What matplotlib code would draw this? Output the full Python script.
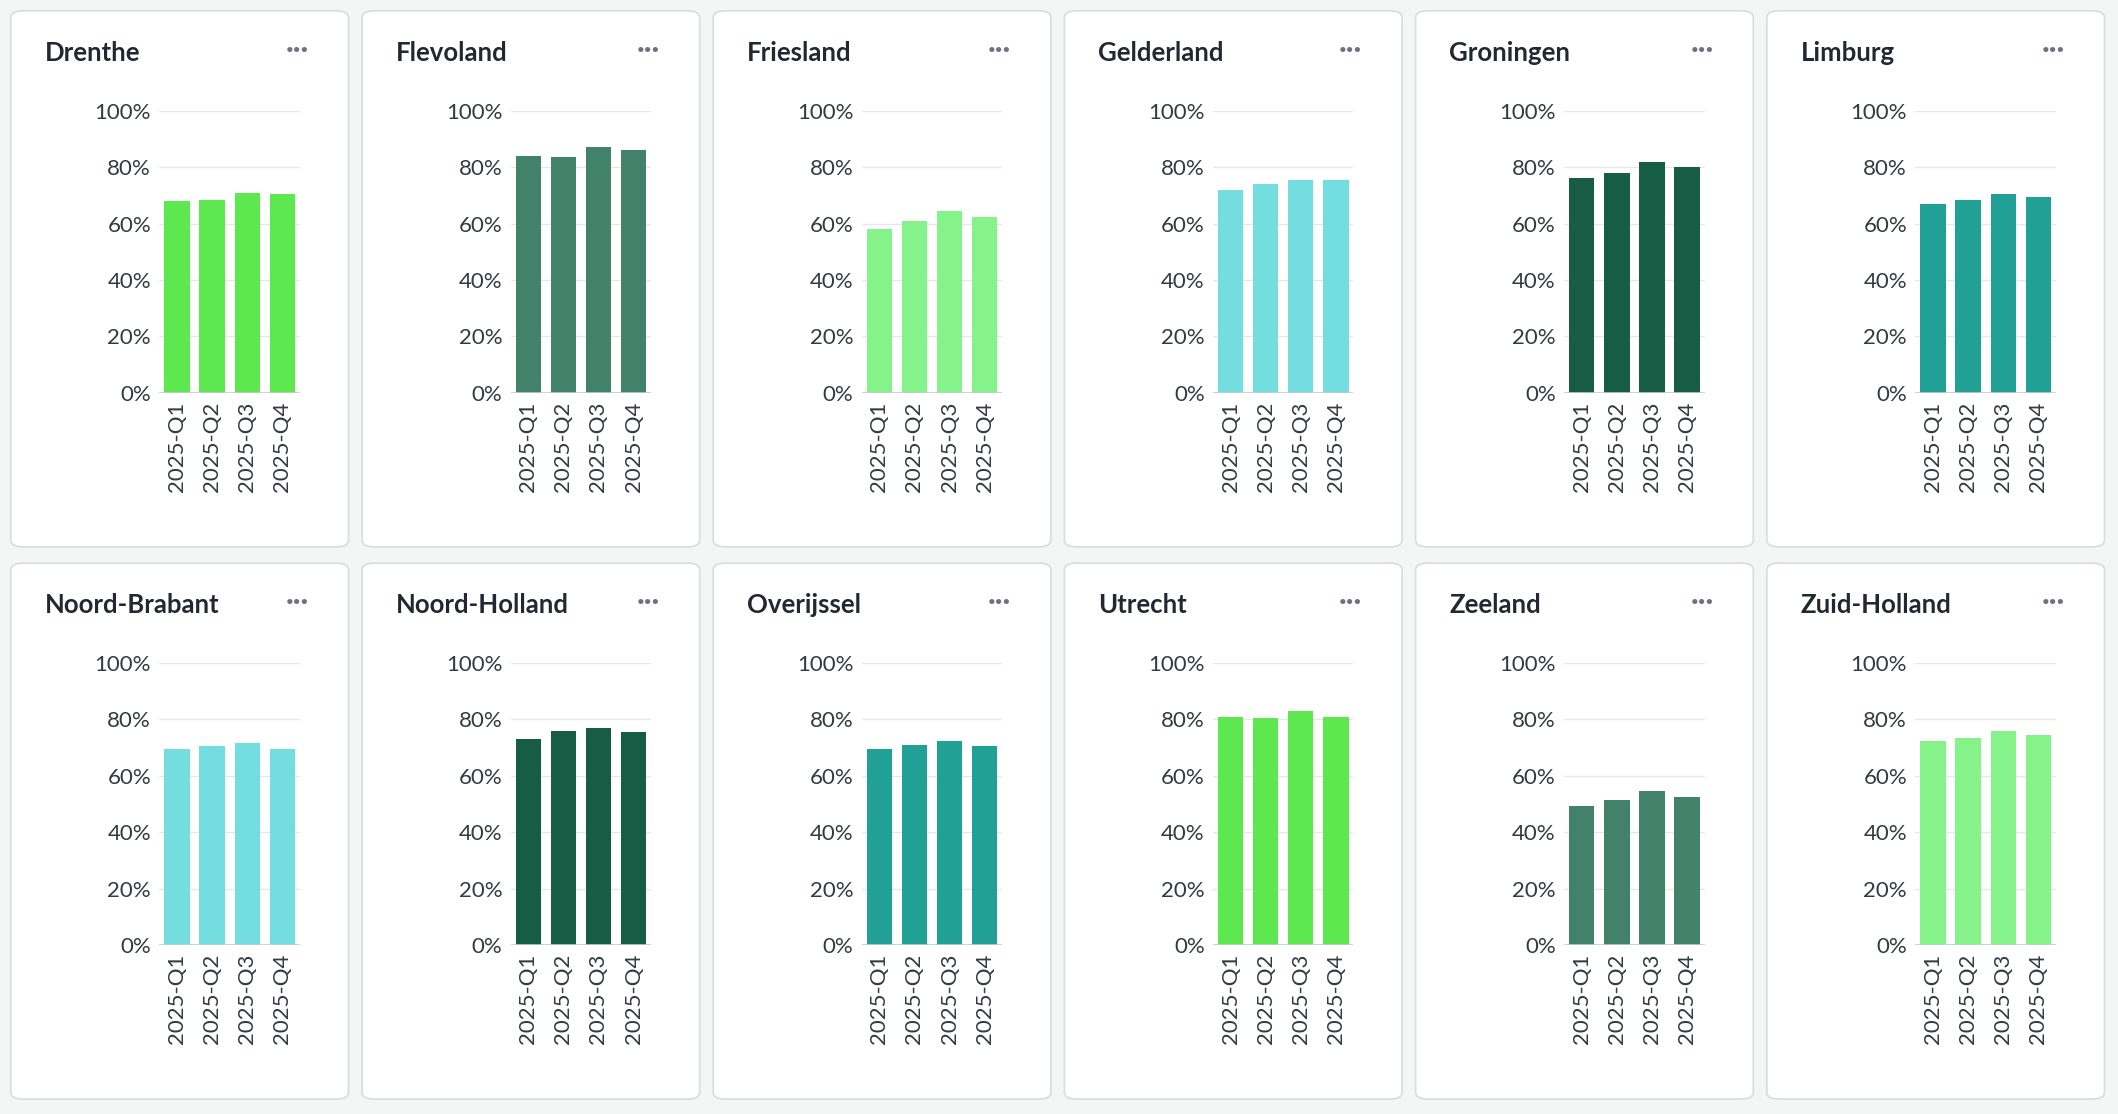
import matplotlib.pyplot as plt
from matplotlib.patches import FancyBboxPatch
from matplotlib.ticker import FuncFormatter

W, H = 1568, 825  # layout units (displayed px)

provinces = ['Drenthe', 'Flevoland', 'Friesland', 'Gelderland', 'Groningen', 'Limburg',
             'Noord-Brabant', 'Noord-Holland', 'Overijssel', 'Utrecht', 'Zeeland', 'Zuid-Holland']
quarters = ['2025-Q1', '2025-Q2', '2025-Q3', '2025-Q4']
values = [
    [68, 68.5, 71, 70.5],
    [84, 83.5, 87, 86],
    [58, 61, 64.5, 62.5],
    [72, 74, 75.5, 75.5],
    [76, 78, 82, 80],
    [67, 68.5, 70.5, 69.5],
    [69.5, 70.5, 71.5, 69.5],
    [73, 76, 77, 75.5],
    [69.5, 71, 72.5, 70.5],
    [81, 80.5, 83, 81],
    [49.5, 51.5, 54.5, 52.5],
    [72.5, 73.5, 76, 74.5],
]
colors = ['#5ee84f', '#43826a', '#86f28a', '#74dde0', '#175c45', '#21a095',
          '#74dde0', '#175c45', '#21a095', '#5ee84f', '#43826a', '#86f28a']

plt.rcParams['font.family'] = ['Lato', 'DejaVu Sans']
fig = plt.figure(figsize=(21.18, 11.14), dpi=100)
fig.patch.set_facecolor('#f4f5f5')

def fx(x):
    return x / W

def fy(y):
    return 1 - y / H

for i, name in enumerate(provinces):
    col, row = i % 6, i // 6
    cx = 8 + col * 260
    cy = 8 + row * 409
    card = FancyBboxPatch((fx(cx), fy(cy + 397)), fx(250), 397 / H,
                          boxstyle='round,pad=0,rounding_size=0.006',
                          transform=fig.transFigure, facecolor='white',
                          edgecolor='#d9dcdc', linewidth=1.2, zorder=-5)
    fig.patches.append(card)
    fig.text(fx(cx + 25), fy(cy + 31), name, fontsize=18.5, fontweight='bold',
             color='#222831', va='center')
    fig.text(fx(cx + 212), fy(cy + 29), '···', fontsize=20, fontweight='bold',
             color='#6b7280', ha='center', va='center')

    ax = fig.add_axes([fx(cx + 110), fy(cy + 283), fx(104), 209 / H])
    ax.bar(range(4), values[i], width=0.72, color=colors[i], zorder=3)
    ax.set_xlim(-0.5, 3.5)
    ax.set_ylim(0, 100)
    ax.set_yticks(range(0, 101, 20))
    ax.yaxis.set_major_formatter(FuncFormatter(lambda v, p: f'{v:.0f}%'))
    ax.set_xticks(range(4))
    ax.set_xticklabels(quarters, rotation=90)
    ax.tick_params(length=0, labelsize=16, colors='#333a42', pad=6)
    ax.grid(axis='y', color='#e6e8e8', linewidth=1, zorder=0)
    for s in ax.spines.values():
        s.set_visible(False)
    ax.axhline(0, color='#c8cccc', linewidth=1.2, zorder=4)
    ax.set_facecolor('none')

fig.savefig('out.png', dpi=100, facecolor=fig.get_facecolor())
